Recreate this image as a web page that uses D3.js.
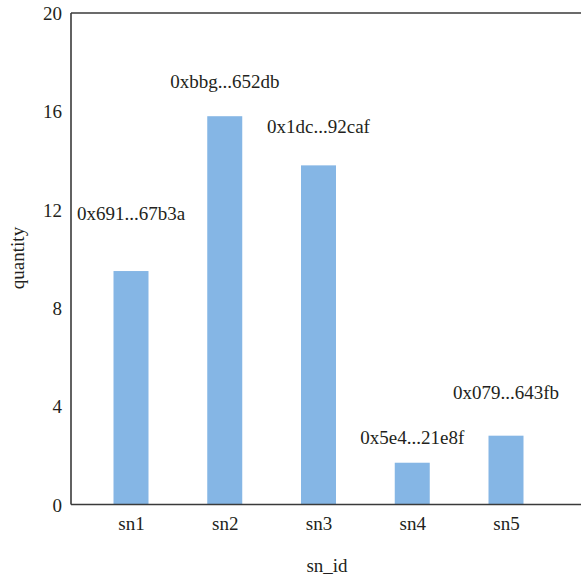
<!DOCTYPE html>
<html>
<head>
<meta charset="utf-8">
<script src="https://cdn.jsdelivr.net/npm/d3@7"></script>
</head>
<body style="margin:0; background:#fff">
<div id="chart"></div>
<script>
// data
var ids = ["sn1", "sn2", "sn3", "sn4", "sn5"];
var quantity = [9.5, 15.8, 13.8, 1.7, 2.8];
var hashes = ["0x691...67b3a", "0xbbg...652db", "0x1dc...92caf", "0x5e4...21e8f", "0x079...643fb"];
// height (in quantity units) where each hash label sits
var labelAt = [11.85, 17.2, 15.4, 2.75, 4.55];
var yTicks = [0, 4, 8, 12, 16, 20];

var width = 581, height = 578;
var plotLeft = 71, plotTop = 13, plotBottom = 504.5;
var fontSize = "19px";
var serif = "'Liberation Serif'";
var ink = "#231f20";

var svg = d3.select("#chart").append("svg")
  .attr("width", width)
  .attr("height", height);

var x = d3.scalePoint().domain(ids).range([131, 506]);
var y = d3.scaleLinear().domain([0, 20]).range([plotBottom, plotTop]);
var barW = 35;

function textStyle(sel) {
  sel.style("font-family", serif).style("font-size", fontSize).style("fill", ink);
}

// bars
svg.append("g").selectAll("rect")
  .data(ids)
  .enter().append("rect")
  .attr("x", function(d) { return x(d) - barW / 2; })
  .attr("y", function(d, i) { return y(quantity[i]); })
  .attr("width", barW)
  .attr("height", function(d, i) { return plotBottom - y(quantity[i]); })
  .style("fill", "#85b6e5");

// frame lines: left axis, top line, baseline
svg.append("line").attr("x1", plotLeft).attr("x2", plotLeft).attr("y1", plotTop).attr("y2", plotBottom)
  .style("stroke", "#3a3a3a").style("stroke-width", 1.6);
svg.append("line").attr("x1", plotLeft).attr("x2", width).attr("y1", plotTop).attr("y2", plotTop)
  .style("stroke", "#3a3a3a").style("stroke-width", 1.6);
svg.append("line").attr("x1", plotLeft).attr("x2", width).attr("y1", plotBottom).attr("y2", plotBottom)
  .style("stroke", "#3a3a3a").style("stroke-width", 1.6);

// y axis labels (no tick marks)
var yAxis = d3.axisLeft(y).tickValues(yTicks).tickSize(0).tickPadding(9);
var gy = svg.append("g").attr("transform", "translate(" + plotLeft + ",0)").call(yAxis);
gy.select(".domain").remove();
gy.attr("font-family", serif).attr("font-size", fontSize);
gy.selectAll("text").call(textStyle).attr("dy", "0.35em");

// x axis labels
var xAxis = d3.axisBottom(x).tickSize(0).tickPadding(12);
var gx = svg.append("g").attr("transform", "translate(0," + plotBottom + ")").call(xAxis);
gx.select(".domain").remove();
gx.attr("font-family", serif).attr("font-size", fontSize);
gx.selectAll("text").call(textStyle);

// hash labels above bars
svg.append("g").selectAll("text")
  .data(ids)
  .enter().append("text")
  .attr("x", function(d) { return x(d); })
  .attr("y", function(d, i) { return y(labelAt[i]); })
  .attr("dy", "0.35em")
  .attr("text-anchor", "middle")
  .call(textStyle)
  .text(function(d, i) { return hashes[i]; });

// axis titles
svg.append("text")
  .attr("x", 327)
  .attr("y", 565)
  .attr("dy", "0.35em")
  .attr("text-anchor", "middle")
  .call(textStyle)
  .text("sn_id");

svg.append("text")
  .attr("transform", "translate(17,258) rotate(-90)")
  .attr("dy", "0.35em")
  .attr("text-anchor", "middle")
  .call(textStyle)
  .text("quantity");
</script>
</body>
</html>
